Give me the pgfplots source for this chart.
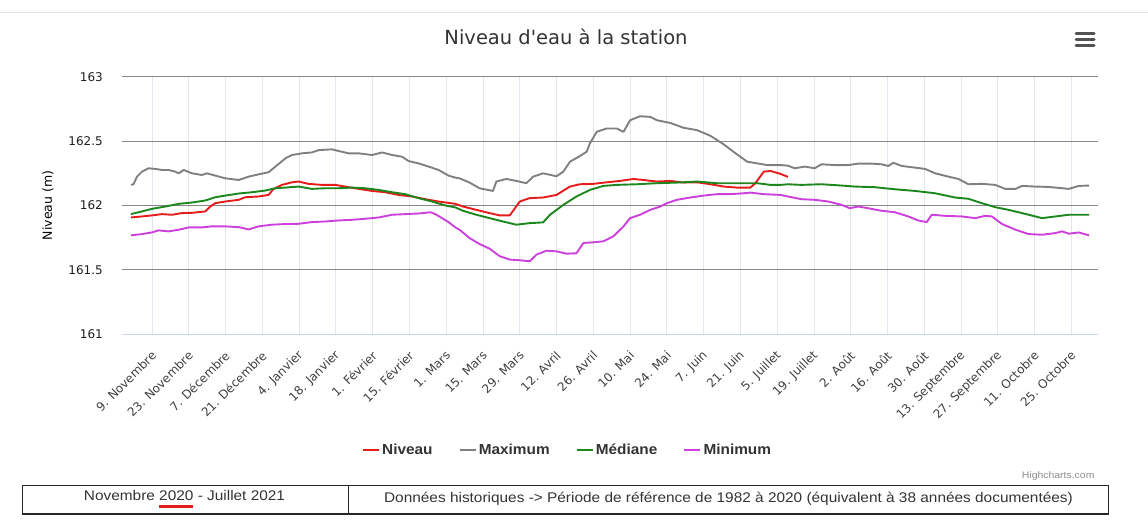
\documentclass[border=0pt]{standalone}
\usepackage{fontspec}
\setmainfont{DejaVu Sans}
\newfontfamily\plainfont{DejaVu Sans}[Ligatures=TeXOff]
\newfontfamily\lib{Liberation Sans}[FakeStretch=1.1]
\newfontfamily\libleg{Liberation Sans}[FakeStretch=1.06]
\usepackage{pgfplots}
\pgfplotsset{compat=1.18}
\definecolor{cNiv}{RGB}{228,28,28}
\definecolor{cMax}{RGB}{128,128,128}
\definecolor{cMed}{RGB}{28,135,28}
\definecolor{cMin}{RGB}{204,64,220}
\definecolor{vgrid}{RGB}{226,230,238}
\definecolor{hgrid}{RGB}{135,135,135}
\definecolor{xline}{RGB}{204,214,235}
\definecolor{txt}{RGB}{51,51,51}
\newlength\ww
\begin{document}
\begin{tikzpicture}
\useasboundingbox (0pt,0pt) rectangle (1148pt,-529pt);
\draw[color=black!12, line width=0.8pt] (0pt,-12pt) -- (1148pt,-12pt);
\node[color=txt, font=\plainfont\fontsize{19.5}{22}\selectfont] at (566pt,-37pt) {Niveau d'eau à la station};
\foreach \yy in {34,40,46} \draw[color=black!68, line width=3pt, line cap=round] (1076pt,-\yy pt) -- (1094pt,-\yy pt);
\begin{axis}[
  at={(122pt,-334.3pt)}, anchor=south west,
  scale only axis, width=975.7pt, height=257.6pt,
  xmin=-3.4, xmax=368, ymin=161, ymax=163,
  axis line style={draw=none},
  major tick length=0pt,
  xtick={8,22,...,358},
  xticklabels={9. Novembre,23. Novembre,7. Décembre,21. Décembre,4. Janvier,18. Janvier,1. Février,15. Février,1. Mars,15. Mars,29. Mars,12. Avril,26. Avril,10. Mai,24. Mai,7. Juin,21. Juin,5. Juillet,19. Juillet,2. Août,16. Août,30. Août,13. Septembre,27. Septembre,11. Octobre,25. Octobre},
  ytick={161,161.5,162,162.5,163},
  yticklabels={161,161.5,162,162.5,163},
  xmajorgrids, ymajorgrids,
  x grid style={color=vgrid, line width=0.8pt},
  y grid style={color=hgrid, line width=0.9pt},
  xticklabel style={yshift=-19pt, xshift=2pt, rotate=45, anchor=east, inner sep=0pt, font=\fontsize{12}{14}\selectfont, color=black!75},
  yticklabel style={anchor=east, inner sep=0pt, xshift=-19pt, font=\fontsize{12}{14}\selectfont, color=black!88},
  ylabel={Niveau (m)},
  every axis y label/.style={at={(rel axis cs:0,0.5)}, xshift=-74pt, rotate=90, anchor=center, font=\fontsize{12.5}{14}\selectfont, color=black},
  legend columns=4,
  legend style={at={(0.4566,-0.449)}, anchor=center, draw=none, fill=none,
    font=\libleg\bfseries\fontsize{14.5}{16}\selectfont, text=txt,
    /tikz/every even column/.append style={column sep=24pt},
    /tikz/every odd column/.append style={column sep=0pt}},
  legend image code/.code={\draw[line width=2.2pt] (0pt,0pt) -- (16pt,0pt);},
  every axis plot/.append style={line width=1.9pt, line join=round},
  clip=false,
]
\addplot[color=cNiv] coordinates {
(0,161.907)(4.2,161.915)(8,161.923)(11.8,161.933)(15.6,161.928)(19.4,161.941)(23.2,161.943)(28.3,161.954)(30.2,161.992)(32.1,162.018)(35.9,162.031)(41.0,162.044)(43.5,162.064)(48.6,162.070)(52.4,162.082)(54.3,162.129)(57.5,162.160)(61.3,162.180)(63.8,162.186)(67.6,162.168)(72.7,162.160)(77.8,162.160)(82.9,162.142)(86.7,162.129)(91.8,162.113)(96.8,162.103)(101.9,162.082)(107.0,162.070)(112.1,162.049)(117.1,162.031)(123.5,162.013)
(126.4,161.992)(131.5,161.966)(136.5,161.941)(140.4,161.923)(144.2,161.923)(148.0,162.031)(151.8,162.057)(156.9,162.062)(162.0,162.082)(167.1,162.147)(170.9,162.165)(176.0,162.168)(181.1,162.180)(186.2,162.191)(191.3,162.206)(195.1,162.198)(200.2,162.186)(205.3,162.191)(210.4,162.178)(215.5,162.180)(220.6,162.165)(225.7,162.147)(230.7,162.139)(235.8,162.139)(237.7,162.173)(240.9,162.263)(243.5,162.268)(247.3,162.245)(250.1,162.222)
};
\addlegendentry{Niveau}
\addplot[color=cMax] coordinates {
(0,162.160)(1.0,162.165)(2.3,162.224)(4.2,162.263)(6.7,162.289)(9.3,162.284)(11.8,162.276)(14.3,162.276)(16.9,162.263)(18.2,162.250)(20.1,162.276)(23.2,162.250)(27.0,162.237)(28.9,162.250)(32.1,162.232)(35.9,162.211)(41.0,162.198)(44.8,162.224)(48.6,162.242)(52.4,162.258)(55.0,162.302)(58.8,162.366)(61.3,162.392)(65.1,162.405)(68.9,162.412)(71.5,162.430)(76.5,162.436)(79.1,162.423)(82.9,162.405)(86.7,162.405)(91.8,162.392)(95.6,162.412)(99.4,162.392)(103.2,162.379)(105.7,162.345)(109.5,162.327)(113.3,162.302)(117.1,162.276)(120.9,162.232)(123.5,162.216)
(125.1,162.211)(128.9,162.178)(132.7,162.134)(137.8,162.113)(139.1,162.186)(142.9,162.206)(146.7,162.191)(150.5,162.173)(153.1,162.224)(156.9,162.250)(162.0,162.227)(164.6,162.263)(167.1,162.340)(170.9,162.384)(173.5,162.418)(174.7,162.482)(177.3,162.572)(181.1,162.598)(184.9,162.598)(187.5,162.572)(190.0,162.662)(193.8,162.693)(197.7,162.688)(200.2,162.662)(205.3,162.641)(210.4,162.603)(215.5,162.585)(220.6,162.541)(225.7,162.474)(230.7,162.397)(234.6,162.340)(238.4,162.327)(242.2,162.314)(247.3,162.314)
(250.1,162.309)(252.6,162.289)(256.5,162.302)(260.3,162.289)(262.8,162.320)(267.9,162.314)(273.0,162.314)(276.8,162.325)(281.9,162.325)(285.7,162.320)(288.3,162.307)(290.2,162.332)(293.4,162.307)(298.5,162.294)(302.3,162.284)(306.1,162.250)(311.2,162.224)(315.0,162.206)(318.8,162.165)(323.9,162.168)(329.0,162.160)(332.8,162.129)(336.7,162.129)(339.2,162.152)(344.3,162.147)(349.4,162.144)(354.5,162.134)(357.0,162.129)(360.8,162.152)(364.7,162.155)
};
\addlegendentry{Maximum}
\addplot[color=cMed] coordinates {
(0,161.933)(4.2,161.954)(8,161.974)(13.1,161.992)(18.2,162.013)(23.2,162.023)(28.3,162.039)(32.1,162.064)(35.9,162.077)(41.0,162.093)(46.1,162.103)(51.1,162.116)(55.0,162.134)(58.8,162.139)(63.8,162.147)(68.9,162.129)(74.0,162.134)(79.1,162.134)(84.1,162.139)(89.2,162.134)(94.3,162.121)(99.4,162.103)(104.4,162.088)(109.5,162.057)(114.6,162.031)(119.7,162.000)(123.5,161.985)
(126.4,161.959)(131.5,161.928)(136.5,161.902)(141.6,161.876)(146.7,161.851)(151.8,161.863)(156.9,161.869)(159.5,161.928)(164.6,162.005)(169.6,162.070)(174.7,162.121)(179.8,162.152)(184.9,162.160)(192.6,162.165)(200.2,162.173)(207.8,162.178)(215.5,162.186)(223.1,162.173)(230.7,162.173)(238.4,162.173)(243.5,162.160)(247.3,162.160)
(250.1,162.165)(255.2,162.160)(262.8,162.165)(270.5,162.155)(275.6,162.147)(283.2,162.142)(290.8,162.126)(298.5,162.113)(306.1,162.095)(313.7,162.062)(318.8,162.052)(323.9,162.018)(329.0,161.987)(334.1,161.966)(339.2,161.941)(344.3,161.915)(346.8,161.902)(351.9,161.915)(357.0,161.928)(364.7,161.928)
};
\addlegendentry{Médiane}
\addplot[color=cMin] coordinates {
(0,161.768)(4.2,161.778)(8,161.791)(10.5,161.807)(14.3,161.799)(18.2,161.812)(22.0,161.830)(27.0,161.830)(30.8,161.838)(35.9,161.838)(41.0,161.832)(44.8,161.814)(48.6,161.838)(53.7,161.851)(58.8,161.856)(63.8,161.858)(68.9,161.871)(74.0,161.876)(79.1,161.884)(84.1,161.889)(89.2,161.897)(94.3,161.907)(99.4,161.928)(104.4,161.933)(109.5,161.938)(112.1,161.943)(114.0,161.948)(115.9,161.933)(118.4,161.902)(120.9,161.871)(123.5,161.830)
(125.1,161.812)(128.9,161.747)(132.7,161.701)(136.5,161.665)(140.4,161.606)(144.2,161.580)(148.0,161.575)(151.8,161.567)(154.4,161.619)(158.2,161.649)(162.0,161.644)(165.8,161.626)(169.6,161.629)(172.2,161.709)(176.0,161.714)(179.8,161.722)(183.6,161.760)(187.5,161.838)(190.0,161.902)(193.8,161.928)(197.7,161.966)(201.5,161.992)(204.0,162.018)(207.8,162.044)(212.9,162.062)(218.0,162.077)(223.1,162.088)(228.2,162.088)(233.3,162.095)(235.8,162.100)(240.9,162.088)(247.3,162.082)
(250.1,162.070)(255.2,162.049)(260.3,162.044)(265.4,162.031)(270.5,162.005)(273.6,161.979)(276.8,161.992)(280.6,161.979)(285.7,161.959)(290.8,161.948)(295.9,161.915)(299.7,161.884)(302.9,161.871)(304.8,161.928)(309.9,161.920)(316.3,161.915)(321.4,161.902)(325.2,161.920)(327.7,161.915)(331.6,161.856)(336.7,161.812)(341.7,161.778)(346.8,161.773)(351.9,161.786)(354.5,161.799)(357.0,161.781)(360.8,161.791)(364.7,161.768)
};
\addlegendentry{Minimum}
\draw[color=xline, line width=1pt] (rel axis cs:0,0) -- (rel axis cs:1,0);
\end{axis}
\node[anchor=east, color=black!45, font=\lib\fontsize{9.5}{10}\selectfont] at (1098pt,-476pt) {Highcharts.com};
\draw[color=black!85, line width=1pt] (22pt,-485pt) rectangle (1108pt,-514pt);
\draw[color=black!85, line width=1.6pt] (22pt,-514pt) -- (1108pt,-514pt);
\draw[color=black!85, line width=1pt] (348pt,-485pt) -- (348pt,-514pt);
\node[color=txt, font=\lib\fontsize{14}{16}\selectfont] at (184.5pt,-499pt) {Novembre \settowidth{\ww}{2020}2020\llap{\color{cNiv}\rule[-7pt]{\ww}{3pt}} - Juillet 2021};
\node[color=txt, font=\lib\fontsize{14}{16}\selectfont] at (728.5pt,-499pt) {Données historiques -> Période de référence de 1982 à 2020 (équivalent à 38 années documentées)};
\end{tikzpicture}
\end{document}
